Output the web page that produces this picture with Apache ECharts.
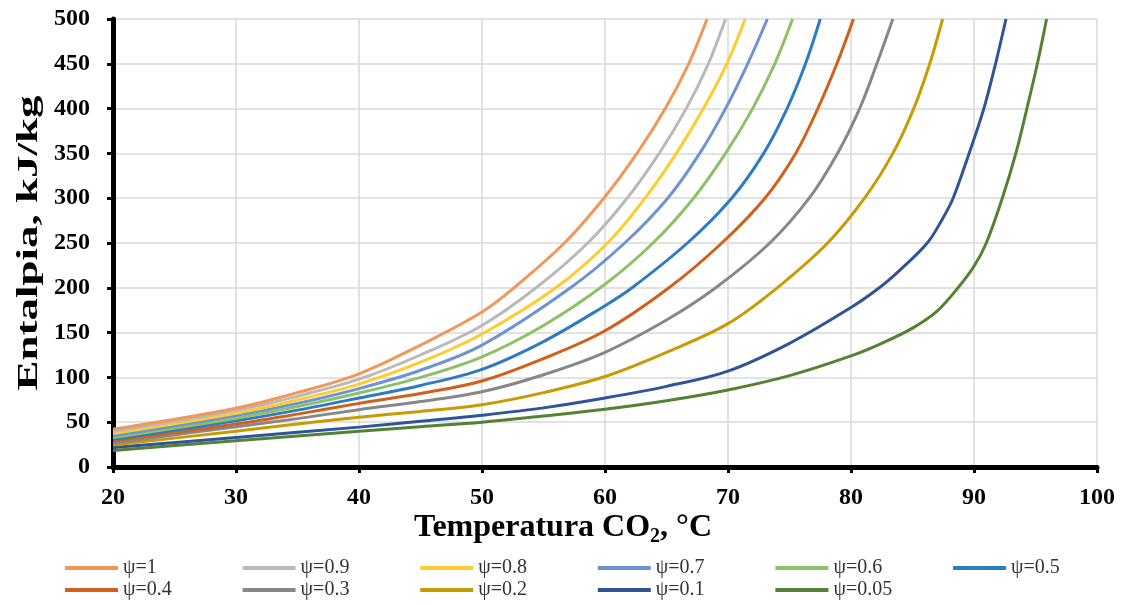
<!DOCTYPE html>
<html>
<head>
<meta charset="utf-8">
<script src="https://cdn.jsdelivr.net/npm/echarts@6/dist/echarts.min.js"></script>
<style>
html,body{margin:0;padding:0;background:#fff;}
#c{width:1126px;height:605px;}
</style>
</head>
<body>
<div id="c"></div>
<script>
// Series names and colours
var seriesNames = ['ψ=1','ψ=0.9','ψ=0.8','ψ=0.7','ψ=0.6','ψ=0.5','ψ=0.4','ψ=0.3','ψ=0.2','ψ=0.1','ψ=0.05'];
var seriesColors = ['#F1975A','#B9B9B9','#FFCB2E','#6E93D3','#8CC168','#2E7BC4','#D0601A','#878787','#C89B00','#2F5597','#548235'];

// [Temperatura °C, Entalpia kJ/kg]
var psi1   = [[20,42.2],[30,65.6],[35,83],[40,104],[45,136],[50,173],[52.6,200],[56.7,250],[59.9,300],[62.6,350],[64.9,400],[66.8,450],[68.3,500]];
var psi09  = [[20,39.6],[30,63],[35,79],[40,98],[45,125],[50,158],[54.4,200],[58.6,250],[61.8,300],[64.4,350],[66.6,400],[68.4,450],[69.8,500]];
var psi08  = [[20,37.4],[30,60],[35,75],[40,92.5],[45,117],[50,148.5],[56,200],[60.2,250],[63.25,300],[65.8,350],[68,400],[69.9,450],[71.4,500]];
var psi07  = [[20,34.8],[30,57.4],[35,71],[40,87.5],[45,108],[50,136],[57.2,200],[61.6,250],[65.1,300],[67.7,350],[69.8,400],[71.6,450],[73.2,500]];
var psi06  = [[20,32.9],[30,54.5],[35,67.5],[40,82.5],[45,100],[50,123],[55,158],[60,204],[63.9,250],[67.2,300],[69.8,350],[72,400],[73.8,450],[75.25,500]];
var psi05  = [[20,31],[30,51.5],[35,63.5],[40,77],[45,91],[50,109],[55,140],[60,180],[62.2,200],[66.7,250],[70.3,300],[72.9,350],[74.8,400],[76.3,450],[77.5,500]];
var psi04  = [[20,29.2],[30,48],[35,59],[40,71],[45,82],[50,96],[55,121],[60,152],[65.2,200],[69.5,250],[73,300],[75.5,350],[77.3,400],[78.85,450],[80.2,500]];
var psi03  = [[20,26.6],[30,45],[35,54],[40,64],[45,73],[50,84],[55,103],[60,128],[65,164],[69,200],[73.4,250],[76.6,300],[78.9,350],[80.7,400],[82.1,450],[83.4,500]];
var psi02  = [[20,24.5],[30,40],[35,48],[40,55.5],[45,62],[50,69.5],[55,83],[60,101],[65,128],[70,160],[74,200],[78.1,250],[81.1,300],[83.4,350],[85.1,400],[86.4,450],[87.45,500]];
var psi01  = [[20,21.8],[30,33],[40,44.5],[45,51],[50,57.8],[55,66],[60,77],[65,90],[70,107],[75,138],[80,178],[82.3,200],[84,220],[86.2,250],[87.4,276],[88.3,300],[89.6,350],[90.8,400],[91.75,450],[92.6,500]];
var psi005 = [[20,18.4],[30,29.2],[40,39.8],[45,45],[50,50],[55,57],[60,64.5],[65,74],[70,86],[75,102],[80,124],[82.5,138],[85,155],[87,174],[88.7,200],[90,224],[91,250],[92.3,300],[93.4,350],[94.3,400],[95.15,450],[95.9,500]];
var seriesData = [psi1,psi09,psi08,psi07,psi06,psi05,psi04,psi03,psi02,psi01,psi005];

// Axis ticks
var xMin = 20, xMax = 100, xStep = 10;
var yMin = 0, yMax = 500, yStep = 50;

var FONT = '"Liberation Serif","Times New Roman",serif';
var chart = echarts.init(document.getElementById('c'), null, {renderer:'canvas'});

var series = seriesNames.map(function(n,i){
  return {
    name:n, type:'line', data:seriesData[i], smooth:0.35,
    showSymbol:false, symbol:'none', clip:true,
    lineStyle:{width:3, color:seriesColors[i]}, itemStyle:{color:seriesColors[i]},
    z: 10 - i*0.1
  };
});

// legend: one legend per entry, laid out in 6 columns x 2 rows
var legends = seriesNames.map(function(n,i){
  var col = i % 6, row = Math.floor(i / 6);
  return {
    orient:'horizontal', left:65 + 177.6*col, top:558 + 22*row, icon:'rect', padding:0,
    itemWidth:53, itemHeight:4, itemGap:0, selectedMode:false,
    textStyle:{fontFamily:FONT, fontSize:20, color:'#333'},
    data:[n]
  };
});

chart.setOption({
  animation:false,
  backgroundColor:'#fff',
  grid:{left:113, right:29, top:19, bottom:138, containLabel:false},
  xAxis:{
    type:'value', min:xMin, max:xMax, interval:xStep,
    axisLine:{show:true, lineStyle:{color:'#000', width:5}},
    axisTick:{show:true, length:6, lineStyle:{color:'#000', width:3}},
    axisLabel:{fontFamily:FONT, fontSize:24, fontWeight:'bold', color:'#000', margin:19},
    splitLine:{show:true, lineStyle:{color:'#D9D9D9', width:1.5}}
  },
  yAxis:{
    type:'value', min:yMin, max:yMax, interval:yStep,
    axisLine:{show:true, lineStyle:{color:'#000', width:5}},
    axisTick:{show:true, length:6, lineStyle:{color:'#000', width:3}},
    axisLabel:{fontFamily:FONT, fontSize:24, fontWeight:'bold', color:'#000', margin:23},
    splitLine:{show:true, lineStyle:{color:'#D9D9D9', width:1.5}}
  },
  legend:legends,
  graphic:[{
    type:'text', left:'center', top:512,
    style:{
      text:'{a|Temperatura CO}{s|2}{a|, °C}',
      rich:{
        a:{fontFamily:FONT, fontSize:32, fontWeight:'bold', fill:'#000', color:'#000'},
        s:{fontFamily:FONT, fontSize:20, fontWeight:'bold', fill:'#000', color:'#000', padding:[18,0,0,0]}
      }
    }
  },{
    type:'text', x:29, y:243, rotation:Math.PI/2, scaleX:1.5, scaleY:1,
    style:{
      text:'Entalpia, kJ/kg', fontFamily:FONT, fontSize:30, fontWeight:'bold',
      fill:'#000', align:'center', verticalAlign:'middle'
    }
  }],
  series:series
});
</script>
</body>
</html>
